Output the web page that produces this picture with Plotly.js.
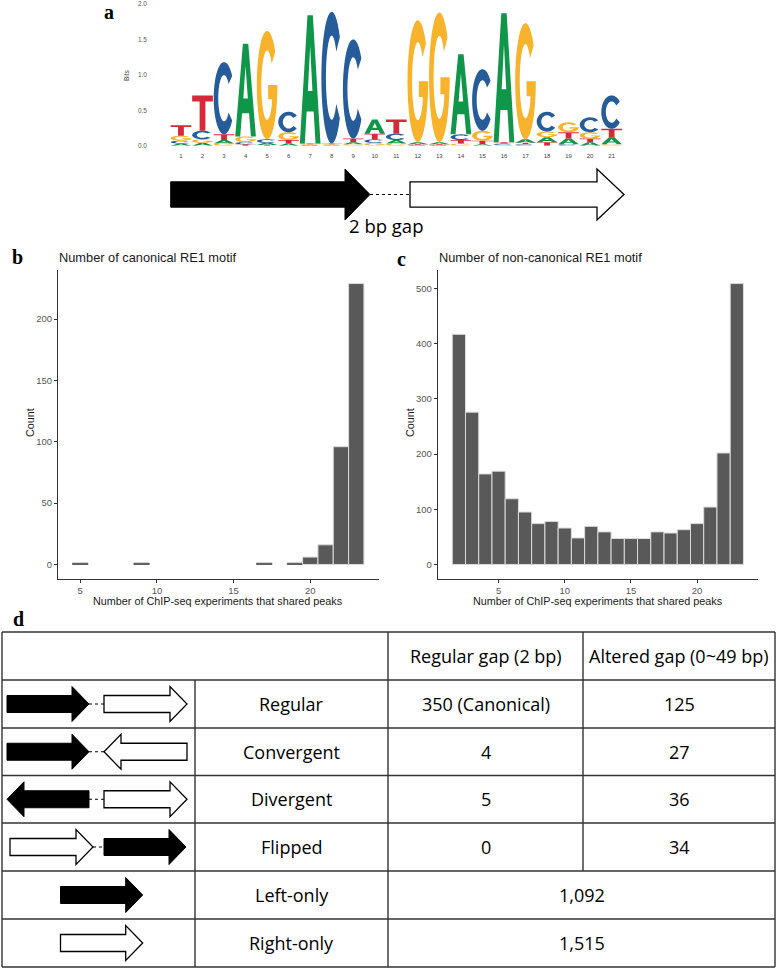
<!DOCTYPE html>
<html><head><meta charset="utf-8">
<script src="https://cdn.plot.ly/plotly-3.0.1.min.js"></script>
<style>html,body{margin:0;padding:0;background:#fff;}#chart{width:777px;height:970px;}</style>
</head><body><div id="chart"></div>
<script>
// ================= DATA =================
// (a) sequence logo: information content (bits) per letter at each motif position
const logoPositions = [1,2,3,4,5,6,7,8,9,10,11,12,13,14,15,16,17,18,19,20,21];
const bitsA = [0.03,0.04,0.05,1.31,0.03,0.03,1.81,0.01,0.03,0.20,0.05,0.03,0.03,1.13,0.02,1.82,0.05,0.07,0.08,0.05,0.10];
const bitsC = [0.04,0.12,1.02,0.03,0.05,0.29,0.01,1.86,1.40,0.05,0.09,0.01,0.01,0.08,0.87,0.02,0.02,0.28,0.02,0.21,0.47];
const bitsG = [0.07,0.05,0.03,0.08,1.53,0.11,0.01,0.01,0.02,0.04,0.03,1.72,1.83,0.03,0.14,0.01,1.64,0.08,0.14,0.09,0.02];
const bitsT = [0.15,0.50,0.08,0.02,0.01,0.05,0.01,0.01,0.05,0.08,0.20,0.01,0.01,0.05,0.05,0.02,0.02,0.05,0.09,0.05,0.12];
const logoYTicks = [0, 0.5, 1.0, 1.5, 2.0];

// (b) canonical RE1 motif histogram (non-empty bins)
const canonShared = [5, 9, 17, 19, 20, 21, 22, 23];
const canonCount  = [1, 1, 1, 1, 6, 16, 96, 229];

// (c) non-canonical RE1 motif histogram
const nonCanonShared = [2,3,4,5,6,7,8,9,10,11,12,13,14,15,16,17,18,19,20,21,22,23];
const nonCanonCount  = [417,276,164,169,119,95,74,78,66,48,69,59,47,47,47,59,57,63,74,104,202,509];

const histXTicks = [5, 10, 15, 20];
const canonYTicks = [0, 50, 100, 150, 200];
const nonCanonYTicks = [0, 100, 200, 300, 400, 500];

// (d) table
const tableHeaders = ['Regular gap (2 bp)', 'Altered gap (0~49 bp)'];
const rowNames = ['Regular', 'Convergent', 'Divergent', 'Flipped', 'Left-only', 'Right-only'];
const regularGapCounts = ['350 (Canonical)', '4', '5', '0'];
const alteredGapCounts = ['125', '27', '36', '34'];
const halfSiteOnlyCounts = ['1,092', '1,515'];

const panelTitles = ['Number of canonical RE1 motif', 'Number of non-canonical RE1 motif'];
const histXTitle = 'Number of ChIP-seq experiments that shared peaks';

// ================= HELPERS =================
const W = 777, H = 970;
const px = x => x / W;
const py = y => 1 - y / H;

function ellipsePts(cx, cy, rx, ry, a0, a1, n) {
  const pts = [];
  for (let i = 0; i <= n; i++) {
    const a = (a0 + (a1 - a0) * i / n) * Math.PI / 180;
    pts.push([cx + rx * Math.cos(a), cy + ry * Math.sin(a)]);
  }
  return pts;
}
const GLYPHS = {
  A: [[[0,0],[0.37,1],[0.63,1],[1,0],[0.76,0],[0.67,0.25],[0.33,0.25],[0.24,0]],
      [[0.39,0.41],[0.61,0.41],[0.5,0.76]]],
  T: [[[0,1],[1,1],[1,0.83],[0.64,0.83],[0.64,0],[0.36,0],[0.36,0.83],[0,0.83]]],
  C: [ellipsePts(0.5,0.5,0.5,0.5,38,322,36).concat(ellipsePts(0.5,0.5,0.28,0.32,322,38,36))],
  G: [ellipsePts(0.5,0.5,0.5,0.5,38,360,36)
        .concat([[1,0.5],[0.55,0.5],[0.55,0.37],[0.74,0.37]])
        .concat(ellipsePts(0.5,0.5,0.28,0.32,325,38,36))]
};
const LETTER_COLORS = {A:'#109648', C:'#255C99', G:'#F7B32B', T:'#D62839'};

function glyphPath(letter, xc, y0, h) {
  const w = 0.96;
  return GLYPHS[letter].map(poly =>
    'M' + poly.map(p => (xc - w/2 + w*p[0]).toFixed(4) + ',' + (y0 + h*p[1]).toFixed(4)).join('L') + 'Z'
  ).join(' ');
}

function arrowPath(x0, x1, yc, dir, bh, hh, hl) {
  let pts;
  if (dir === 'right') {
    const hb = x1 - hl;
    pts = [[x0,yc-bh],[hb,yc-bh],[hb,yc-hh],[x1,yc],[hb,yc+hh],[hb,yc+bh],[x0,yc+bh]];
  } else {
    const hb = x0 + hl;
    pts = [[x1,yc-bh],[hb,yc-bh],[hb,yc-hh],[x0,yc],[hb,yc+hh],[hb,yc+bh],[x1,yc+bh]];
  }
  return 'M' + pts.map(p => px(p[0]).toFixed(5) + ',' + py(p[1]).toFixed(5)).join('L') + 'Z';
}

const shapes = [];
const annotations = [];

// ---- logo letters ----
logoPositions.forEach((pos, i) => {
  const stack = [['A', bitsA[i]], ['C', bitsC[i]], ['G', bitsG[i]], ['T', bitsT[i]]]
    .sort((a, b) => a[1] - b[1]);
  let base = 0;
  stack.forEach(([L, h]) => {
    if (h > 0) {
      shapes.push({type:'path', xref:'x', yref:'y', path: glyphPath(L, pos, base, h),
        fillcolor: LETTER_COLORS[L], line:{width:0}, layer:'above'});
    }
    base += h;
  });
});

function addArrow(x0, x1, yc, dir, fill, bh, hh, hl) {
  shapes.push({type:'path', xref:'paper', yref:'paper', path: arrowPath(x0, x1, yc, dir, bh, hh, hl),
    fillcolor: fill, line:{color:'#000', width: fill === 'white' ? 1.3 : 1}});
}
function addDash(x0, x1, yc) {
  shapes.push({type:'line', xref:'paper', yref:'paper', x0:px(x0), x1:px(x1), y0:py(yc), y1:py(yc),
    line:{color:'#000', width:1, dash:'3px,3px'}});
}

// ---- motif half-site diagram under logo ----
addArrow(170.7, 370, 194.5, 'right', '#000', 12.7, 25.5, 25);
addDash(370, 410, 194.5);
addArrow(410, 624, 194.5, 'right', 'white', 12.7, 25.5, 27);
annotations.push({xref:'paper', yref:'paper', x:px(386), y:py(225), text:'2 bp gap', showarrow:false,
  xanchor:'center', yanchor:'middle', font:{family:'Open Sans', size:18.5, color:'#000'}});

// ---- table (d) ----
const tL = 2, tR = 775, c1 = 195, c2 = 388, c3 = 583;
const rowY = [632, 680, 728, 775.5, 823, 871, 919, 967];
const lineStyle = {color:'#333', width:1.4};
function addLine(x0, y0, x1, y1) {
  shapes.push({type:'line', xref:'paper', yref:'paper', x0:px(x0), y0:py(y0), x1:px(x1), y1:py(y1), line:lineStyle});
}
rowY.forEach(y => addLine(tL, y, tR, y));
addLine(tL, rowY[0], tL, rowY[7]);
addLine(tR, rowY[0], tR, rowY[7]);
addLine(c1, rowY[1], c1, rowY[7]);
addLine(c2, rowY[0], c2, rowY[7]);
addLine(c3, rowY[0], c3, rowY[5]);

const cellFont = {family:'Open Sans', size:18, color:'#000'};
function cellText(x, y, t) {
  annotations.push({xref:'paper', yref:'paper', x:px(x), y:py(y), text:t, showarrow:false,
    xanchor:'center', yanchor:'middle', font:cellFont});
}
const rc = i => (rowY[i] + rowY[i+1]) / 2;
cellText((c2+c3)/2, rc(0), tableHeaders[0]);
cellText((c3+tR)/2, rc(0), tableHeaders[1]);
rowNames.forEach((n, i) => cellText((c1+c2)/2, rc(i+1), n));
regularGapCounts.forEach((v, i) => cellText((c2+c3)/2, rc(i+1), v));
alteredGapCounts.forEach((v, i) => cellText((c3+tR)/2, rc(i+1), v));
halfSiteOnlyCounts.forEach((v, i) => cellText((c2+tR)/2, rc(i+5), v));

// arrow pictograms in table
const TB = 8.5, TH = 17.5, TL = 17;
// Regular
addArrow(7, 89, rc(1), 'right', '#000', TB, TH, TL); addDash(89, 104, rc(1)); addArrow(104, 187, rc(1), 'right', 'white', TB, TH, TL);
// Convergent
addArrow(7, 89, rc(2), 'right', '#000', TB, TH, TL); addDash(89, 104, rc(2)); addArrow(104, 187, rc(2), 'left', 'white', TB, TH, TL);
// Divergent
addArrow(7, 89, rc(3), 'left', '#000', TB, TH, TL); addDash(89, 104, rc(3)); addArrow(104, 187, rc(3), 'right', 'white', TB, TH, TL);
// Flipped
addArrow(10, 93, rc(4), 'right', 'white', TB, TH, TL); addDash(93, 104, rc(4)); addArrow(104, 186, rc(4), 'right', '#000', TB, TH, TL);
// Left-only / Right-only
addArrow(60.5, 142.7, rc(5), 'right', '#000', TB, TH, TL);
addArrow(60.5, 142.7, rc(6), 'right', 'white', TB, TH, TL);

// ---- panel labels ----
const labelFont = {family:'Liberation Serif', size:20, color:'#000'};
annotations.push({xref:'paper', yref:'paper', x:px(109), y:py(0), text:'<b>a</b>', showarrow:false,
  xanchor:'center', yanchor:'top', borderpad:0, font:labelFont});
[['b',17,257],['c',401,259],['d',18,619]].forEach(([t,x,y]) => {
  annotations.push({xref:'paper', yref:'paper', x:px(x), y:py(y), text:'<b>'+t+'</b>', showarrow:false,
    xanchor:'center', yanchor:'middle', font:labelFont});
});

// ---- histogram titles & axis titles ----
const sansTitle = {family:'Liberation Sans', size:12.8, color:'#1a1a1a'};
annotations.push({xref:'paper', yref:'paper', x:px(57), y:py(257.5), text:panelTitles[0], showarrow:false, xanchor:'left', yanchor:'middle', font:sansTitle});
annotations.push({xref:'paper', yref:'paper', x:px(437), y:py(257.5), text:panelTitles[1], showarrow:false, xanchor:'left', yanchor:'middle', font:sansTitle});
const axTitleFont = {family:'Liberation Sans', size:10.8, color:'#1a1a1a'};
annotations.push({xref:'paper', yref:'paper', x:px(218), y:py(600.5), text:histXTitle, showarrow:false, xanchor:'center', yanchor:'middle', font:axTitleFont});
annotations.push({xref:'paper', yref:'paper', x:px(598), y:py(600.5), text:histXTitle, showarrow:false, xanchor:'center', yanchor:'middle', font:axTitleFont});
annotations.push({xref:'paper', yref:'paper', x:px(30), y:py(423), text:'Count', textangle:-90, showarrow:false, xanchor:'center', yanchor:'middle', font:axTitleFont});
annotations.push({xref:'paper', yref:'paper', x:px(410), y:py(423), text:'Count', textangle:-90, showarrow:false, xanchor:'center', yanchor:'middle', font:axTitleFont});
annotations.push({xref:'paper', yref:'paper', x:px(127), y:py(75), text:'Bits', textangle:-90, showarrow:false, xanchor:'center', yanchor:'middle', font:{family:'Liberation Sans', size:6.5, color:'#444'}});

// ================= TRACES =================
const outline = counts => counts.map(c => c < 3 ? '#5a5a5a' : '#dcdcdc');
const traces = [
  // invisible anchor trace so the logo axes render
  {type:'scatter', x:logoPositions, y:logoPositions.map(() => 0), mode:'markers',
   marker:{opacity:0}, hoverinfo:'skip', xaxis:'x', yaxis:'y'},
  {type:'bar', x:canonShared, y:canonCount, width:1,
   marker:{color:'#595959', line:{color:outline(canonCount), width:1}}, xaxis:'x2', yaxis:'y2', hoverinfo:'x+y'},
  {type:'bar', x:nonCanonShared, y:nonCanonCount, width:1,
   marker:{color:'#595959', line:{color:outline(nonCanonCount), width:1}}, xaxis:'x3', yaxis:'y3', hoverinfo:'x+y'}
];

const tickFontSmall = {family:'Liberation Sans', size:9.5, color:'#555'};
const baseAxis = {showgrid:false, zeroline:false, showline:true, linecolor:'#333', linewidth:1,
  ticks:'outside', ticklen:3, tickwidth:1, tickcolor:'#333', tickfont:tickFontSmall, fixedrange:true};

// histogram domains (pixels)
const histTop = 269.5, histBottom = 578.5;

const layout = {
  width: W, height: H,
  margin: {l:0, r:0, t:0, b:0, pad:0},
  paper_bgcolor:'#fff', plot_bgcolor:'rgba(0,0,0,0)',
  showlegend:false,
  xaxis: {domain:[px(148), px(622.4)], range:[-0.531, 21.5], anchor:'y',
    tickmode:'array', tickvals:logoPositions, ticktext:logoPositions.map(String),
    showgrid:false, zeroline:false, showline:false, ticks:'outside', ticklen:4, tickcolor:'rgba(0,0,0,0)',
    tickfont:{family:'Liberation Sans', size:6, color:'#444'}, fixedrange:true},
  yaxis: {domain:[py(145.7), py(4)], range:[0, 2], anchor:'x',
    tickmode:'array', tickvals:logoYTicks, ticktext:logoYTicks.map(v => v.toFixed(1)),
    showgrid:false, zeroline:false, showline:false, ticks:'',
    tickfont:{family:'Liberation Sans', size:6.5, color:'#555'}, fixedrange:true},
  xaxis2: Object.assign({}, baseAxis, {domain:[px(58), px(378.5)], range:[3.55, 24.45], anchor:'y2',
    tickmode:'array', tickvals:histXTicks}),
  yaxis2: Object.assign({}, baseAxis, {domain:[py(histBottom), py(histTop)], range:[-11.45, 240.45], anchor:'x2',
    tickmode:'array', tickvals:canonYTicks}),
  xaxis3: Object.assign({}, baseAxis, {domain:[px(437.7), px(758)], range:[0.4, 24.6], anchor:'y3',
    tickmode:'array', tickvals:histXTicks}),
  yaxis3: Object.assign({}, baseAxis, {domain:[py(histBottom), py(histTop)], range:[-25.45, 534.45], anchor:'x3',
    tickmode:'array', tickvals:nonCanonYTicks}),
  shapes: shapes,
  annotations: annotations
};

Plotly.newPlot('chart', traces, layout, {displayModeBar:false, staticPlot:true});
</script>
</body></html>
